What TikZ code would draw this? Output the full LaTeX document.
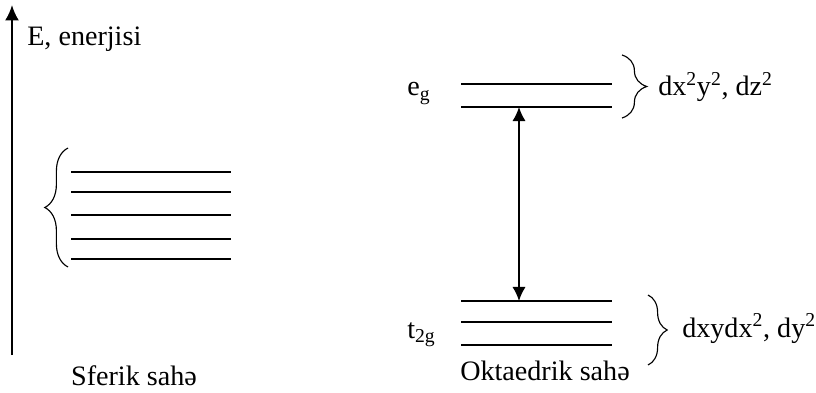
\documentclass[tikz,border=0pt]{standalone}
\usepackage{fontspec}
\setmainfont{Liberation Serif}
\usetikzlibrary{arrows.meta,decorations.pathreplacing}

\begin{document}
\begin{tikzpicture}[x=0.025cm,y=-0.025cm,
    every node/.style={inner sep=0pt,font=\fontsize{20}{24}\selectfont},
    level/.style={line width=1.3pt},
    curly/.style={line width=0.8pt,decorate,decoration={brace,amplitude=#1}},
    tip/.style={-{Latex[length=11pt,width=10pt]}},
    tips/.style={{Latex[length=10pt,width=9.5pt]}-{Latex[length=10pt,width=9.5pt]}}]
  \useasboundingbox (0,0) rectangle (816,393);
  % energy axis
  \coordinate (axb) at (12,355);
  \coordinate (axt) at (12,5);
  \draw [line width=1.6pt,tip] (axb) to (axt);
  \node (E) [anchor=base west] at (27,46) {E, enerjisi};
  % spherical field
  \coordinate (s1) at (71,172);
  \coordinate (s2) at (71,192);
  \coordinate (s3) at (71,215);
  \coordinate (s4) at (71,239);
  \coordinate (s5) at (71,259);
  \draw [level] (s1) to ++(160,0);
  \draw [level] (s2) to ++(160,0);
  \draw [level] (s3) to ++(160,0);
  \draw [level] (s4) to ++(160,0);
  \draw [level] (s5) to ++(160,0);
  \coordinate (lb) at (68,267);
  \coordinate (lt) at (68,148);
  \draw [curly=0.58cm] (lb) to (lt);
  \node (S) [anchor=base] at (134,385) {Sferik sahə};
  % octahedral field
  \coordinate (e1) at (461,84);
  \coordinate (e2) at (461,107);
  \coordinate (t1) at (461,301);
  \coordinate (t2) at (461,322);
  \coordinate (t3) at (461,345);
  \draw [level] (e1) to ++(151,0);
  \draw [level] (e2) to ++(151,0);
  \draw [level] (t1) to ++(151,0);
  \draw [level] (t2) to ++(151,0);
  \draw [level] (t3) to ++(151,0);
  \node (eg) [anchor=base west] at (407,96) {e\textsubscript{g}};
  \node (tg) [anchor=base west] at (407,338) {t\textsubscript{2g}};
  \coordinate (up) at (519,107);
  \coordinate (dn) at (519,301);
  \draw [line width=1.3pt,tips] (up) to (dn);
  \coordinate (ebt) at (622,55);
  \coordinate (ebb) at (622,118);
  \draw [curly=0.62cm] (ebt) to (ebb);
  \coordinate (tbt) at (648,295);
  \coordinate (tbb) at (648,365);
  \draw [curly=0.48cm] (tbt) to (tbb);
  \node (eorb) [anchor=base west] at (658,96) {dx\textsuperscript{2}y\textsuperscript{2}, dz\textsuperscript{2}};
  \node (torb) [anchor=base west] at (682,337) {dxydx\textsuperscript{2}, dy\textsuperscript{2}};
  \node (O) [anchor=base] at (545,380) {Oktaedrik sahə};
\end{tikzpicture}
\end{document}
